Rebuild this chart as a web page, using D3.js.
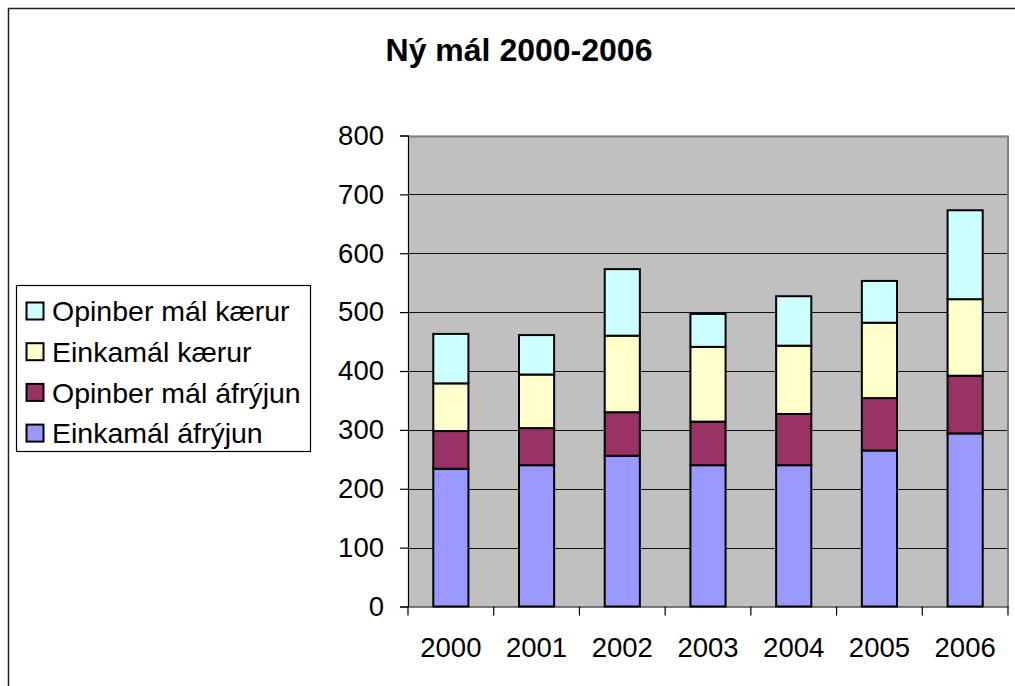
<!DOCTYPE html>
<html>
<head>
<meta charset="utf-8">
<script src="https://cdn.jsdelivr.net/npm/d3@7"></script>
<style>
  body { margin: 0; background: #fff; }
  svg { display: block; font-family: "Liberation Sans", Arial, sans-serif; }
</style>
</head>
<body>
<svg id="chart" width="1015" height="686"></svg>
<script>
const years = ['2000', '2001', '2002', '2003', '2004', '2005', '2006'];
const seriesNames = ['Einkamál áfrýjun', 'Opinber mál áfrýjun', 'Einkamál kærur', 'Opinber mál kærur'];
const einkamalAfryjun = [234, 240, 256, 240, 240, 265, 294];
const opinberAfryjun = [64, 63, 74, 74, 87, 89, 98];
const einkamalKaerur = [81, 91, 130, 127, 116, 128, 130];
const opinberKaerur = [84, 67, 113, 56, 84, 71, 151];
const yTicks = [0, 100, 200, 300, 400, 500, 600, 700, 800];

const seriesColors = ['#9999ff', '#993366', '#ffffcc', '#ccffff'];

const rows = years.map((y, i) => ({
    year: y,
    [seriesNames[0]]: einkamalAfryjun[i],
    [seriesNames[1]]: opinberAfryjun[i],
    [seriesNames[2]]: einkamalKaerur[i],
    [seriesNames[3]]: opinberKaerur[i]
}));

const stacked = d3.stack().keys(seriesNames)(rows);

const plot = {left: 408, right: 1008, top: 135.5, bottom: 606.5};

const svg = d3.select('#chart');

// outer chart frame
svg.append('path')
    .attr('d', 'M8.5,700 V8.5 H1030')
    .attr('fill', 'none')
    .attr('stroke', '#222')
    .attr('stroke-width', 1.5);

svg.append('text')
    .attr('x', 519)
    .attr('y', 61)
    .attr('text-anchor', 'middle')
    .attr('font-size', 32)
    .attr('font-weight', 'bold')
    .text('Ný mál 2000-2006');

const x = d3.scaleBand()
    .domain(years)
    .range([plot.left, plot.right])
    .paddingInner(0.59)
    .paddingOuter(0.295);

const xOuter = d3.scaleBand().domain(years).range([plot.left, plot.right]);

const y = d3.scaleLinear()
    .domain([0, 800])
    .range([plot.bottom, plot.top]);

const color = d3.scaleOrdinal().domain(seriesNames).range(seriesColors);

svg.append('rect')
    .attr('x', plot.left)
    .attr('y', plot.top)
    .attr('width', plot.right - plot.left)
    .attr('height', plot.bottom - plot.top)
    .attr('fill', '#c0c0c0');

// gridlines
svg.append('g')
    .selectAll('line')
    .data(yTicks.filter(d => d > 0))
    .join('line')
    .attr('x1', plot.left)
    .attr('x2', plot.right)
    .attr('y1', d => Math.round(y(d)) + 0.5)
    .attr('y2', d => Math.round(y(d)) + 0.5)
    .attr('stroke', d => d === 800 ? '#808080' : '#111')
    .attr('stroke-width', d => d === 800 ? 2 : 1.2);

// right border of plot area
svg.append('line')
    .attr('x1', plot.right).attr('x2', plot.right)
    .attr('y1', plot.top).attr('y2', plot.bottom)
    .attr('stroke', '#808080')
    .attr('stroke-width', 2);

// stacked bars
svg.append('g')
    .selectAll('g')
    .data(stacked)
    .join('g')
    .attr('fill', d => color(d.key))
    .selectAll('rect')
    .data(d => d)
    .join('rect')
    .attr('x', d => x(d.data.year))
    .attr('width', x.bandwidth())
    .attr('y', d => y(d[1]))
    .attr('height', d => y(d[0]) - y(d[1]))
    .attr('stroke', '#000')
    .attr('stroke-width', 2);

// y axis
const yAxis = svg.append('g')
    .attr('transform', `translate(${plot.left},0)`)
    .call(d3.axisLeft(y).tickValues(yTicks).tickSize(8).tickPadding(16).tickFormat(d3.format('d')));
yAxis.select('.domain').attr('stroke', '#000').attr('stroke-width', 1.2);
yAxis.selectAll('.tick line').attr('stroke', '#000').attr('stroke-width', 1.2);
yAxis.selectAll('.tick text')
    .attr('font-size', 27.5)
    .attr('font-family', '"Liberation Sans", Arial, sans-serif')
    .attr('fill', '#000');

// x axis
const xAxis = svg.append('g')
    .attr('transform', `translate(0,${plot.bottom})`)
    .call(d3.axisBottom(xOuter).tickSize(0).tickPadding(31));
xAxis.select('.domain').attr('stroke', '#000').attr('stroke-width', 1.2);
xAxis.selectAll('.tick text')
    .attr('font-size', 27.5)
    .attr('font-family', '"Liberation Sans", Arial, sans-serif')
    .attr('fill', '#000');

// category boundary ticks
svg.append('g')
    .selectAll('line')
    .data(years.map(d => xOuter(d)).concat([plot.right]))
    .join('line')
    .attr('x1', d => d)
    .attr('x2', d => d)
    .attr('y1', plot.bottom)
    .attr('y2', plot.bottom + 9)
    .attr('stroke', '#000')
    .attr('stroke-width', 1.2);

// legend
const legend = svg.append('g');
legend.append('rect')
    .attr('x', 16.5)
    .attr('y', 285.5)
    .attr('width', 294)
    .attr('height', 166)
    .attr('fill', '#fff')
    .attr('stroke', '#000')
    .attr('stroke-width', 1.2);

const legendItems = legend.selectAll('g.item')
    .data(seriesNames.slice().reverse())
    .join('g')
    .attr('class', 'item')
    .attr('transform', (d, i) => `translate(0,${311 + i * 40.7})`);

legendItems.append('rect')
    .attr('x', 26.5)
    .attr('y', -8.5)
    .attr('width', 17)
    .attr('height', 17)
    .attr('fill', d => color(d))
    .attr('stroke', '#000')
    .attr('stroke-width', 2);

legendItems.append('text')
    .attr('x', 52)
    .attr('y', 0)
    .attr('dy', '0.36em')
    .attr('font-size', 28.5)
    .text(d => d);
</script>
</body>
</html>
